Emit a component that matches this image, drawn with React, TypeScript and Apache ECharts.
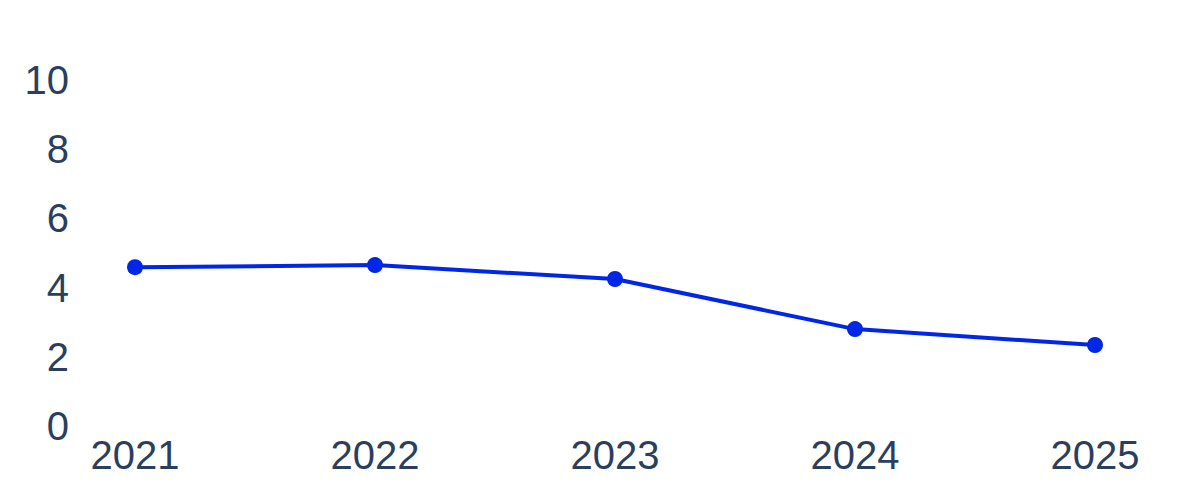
import React, { useEffect, useRef } from "react";
import * as echarts from "echarts";

const years = ["2021", "2022", "2023", "2024", "2025"];
const values = [4.59, 4.65, 4.25, 2.8, 2.34];
const yTicks = [0, 2, 4, 6, 8, 10];

export default function App() {
  const ref = useRef<HTMLDivElement>(null);
  useEffect(() => {
    if (!ref.current) return;
    const chart = echarts.init(ref.current, null, { renderer: "svg" });
    chart.setOption({
      animation: false,
      backgroundColor: "#ffffff",
      grid: { left: 135, right: 105, top: 80, bottom: 74, containLabel: false },
      xAxis: {
        type: "category",
        data: years,
        boundaryGap: false,
        axisLine: { show: false },
        axisTick: { show: false },
        splitLine: { show: false },
        axisLabel: {
          color: "#2a3f5f",
          fontFamily: "Liberation Sans, Arial, sans-serif",
          fontSize: 40,
          margin: 9,
        },
      },
      yAxis: {
        type: "value",
        min: yTicks[0],
        max: yTicks[yTicks.length - 1],
        interval: 2,
        axisLine: { show: false },
        axisTick: { show: false },
        splitLine: { show: false },
        axisLabel: {
          color: "#2a3f5f",
          fontFamily: "Liberation Sans, Arial, sans-serif",
          fontSize: 40,
          margin: 66,
          align: "right",
        },
      },
      series: [
        {
          type: "line",
          data: values,
          symbol: "circle",
          symbolSize: 16,
          itemStyle: { color: "#0027e8" },
          lineStyle: { color: "#0027e8", width: 4 },
        },
      ],
    });
    return () => chart.dispose();
  }, []);
  return (
    <div
      ref={ref}
      style={{ position: "absolute", left: 0, top: 0, width: 1200, height: 500 }}
    />
  );
}
